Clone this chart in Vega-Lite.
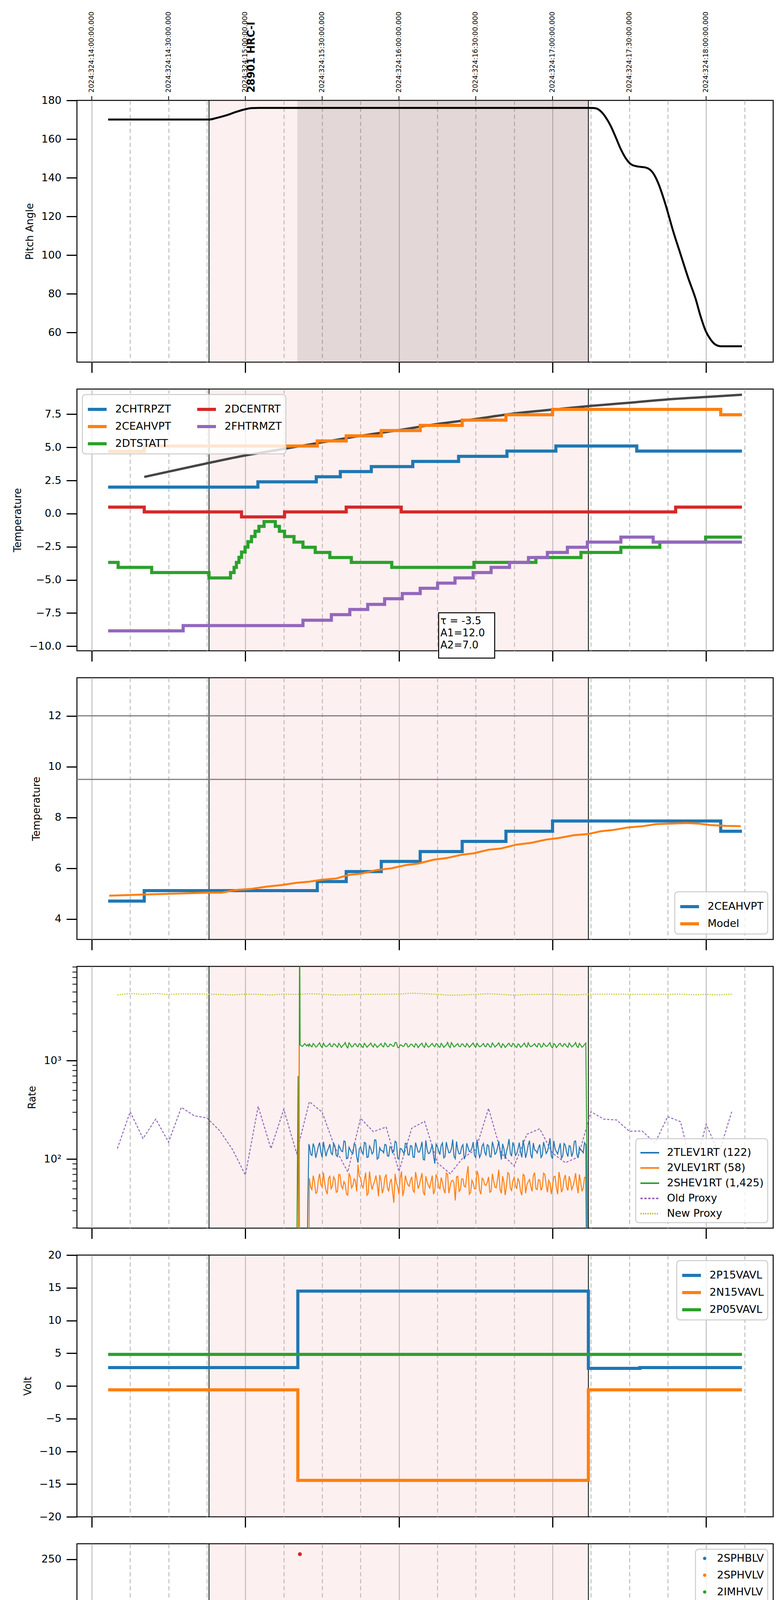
{
"$schema":"https://vega.github.io/schema/vega-lite/v6.json",
"background":"white",
"autosize":{"type":"pad"},
"padding":{"left":31,"top":28,"right":5,"bottom":5},
"spacing":69,
"bounds":"flush",
"resolve":{"scale":{"color":"independent","strokeDash":"independent"}},
"datasets":{
"ev":[{"t":45.8,"t2":194}],
"dk":[{"t":80.3,"t2":194}],
"edges":[{"t":45.8},{"t":194}],
"lims":[{"v":12},{"v":9.5}],
"tops":[{"t":0,"lab":"2024:324:14:00:00.000"},{"t":30,"lab":"2024:324:14:30:00.000"},{"t":60,"lab":"2024:324:15:00:00.000"},{"t":90,"lab":"2024:324:15:30:00.000"},{"t":120,"lab":"2024:324:16:00:00.000"},{"t":150,"lab":"2024:324:16:30:00.000"},{"t":180,"lab":"2024:324:17:00:00.000"},{"t":210,"lab":"2024:324:17:30:00.000"},{"t":240,"lab":"2024:324:18:00:00.000"}],
"obs":[{"t":62.4,"lab":"28901 HRC-I"}],
"pitch":[{"t":6.4,"v":170.1},{"t":45.8,"v":170.1},{"t":48.7,"v":170.9},{"t":52.6,"v":172.3},{"t":56.5,"v":174.1},{"t":59.9,"v":175.4},{"t":62.4,"v":176.0},{"t":65.3,"v":176.1},{"t":195.0,"v":176.1},{"t":196.9,"v":175.9},{"t":198.9,"v":174.3},{"t":200.8,"v":171.2},{"t":202.8,"v":166.6},{"t":204.7,"v":160.9},{"t":206.7,"v":154.7},{"t":208.6,"v":150.1},{"t":211.0,"v":146.7},{"t":213.5,"v":145.8},{"t":216.4,"v":145.3},{"t":219.3,"v":142.4},{"t":221.3,"v":137.2},{"t":224.2,"v":125.9},{"t":227.1,"v":112.5},{"t":230.1,"v":100.1},{"t":233.0,"v":88.2},{"t":235.9,"v":77.4},{"t":237.9,"v":68.1},{"t":239.8,"v":60.9},{"t":241.8,"v":56.3},{"t":243.7,"v":53.7},{"t":245.7,"v":52.9},{"t":254.0,"v":52.9}],
"p2":[
{"s":"2CHTRPZT","t":6.4,"v":2.0},{"s":"2CHTRPZT","t":64.9,"v":2.4},{"s":"2CHTRPZT","t":87.7,"v":2.78},{"s":"2CHTRPZT","t":97.1,"v":3.17},{"s":"2CHTRPZT","t":109.2,"v":3.55},{"s":"2CHTRPZT","t":125.4,"v":3.94},{"s":"2CHTRPZT","t":143.3,"v":4.32},{"s":"2CHTRPZT","t":162.2,"v":4.72},{"s":"2CHTRPZT","t":181.3,"v":5.1},{"s":"2CHTRPZT","t":212.9,"v":4.72},{"s":"2CHTRPZT","t":254.0,"v":4.72},
{"s":"2CEAHVPT","t":6.4,"v":4.7},{"s":"2CEAHVPT","t":20.5,"v":5.1},{"s":"2CEAHVPT","t":88.1,"v":5.49},{"s":"2CEAHVPT","t":99.4,"v":5.87},{"s":"2CEAHVPT","t":113.1,"v":6.27},{"s":"2CEAHVPT","t":128.3,"v":6.66},{"s":"2CEAHVPT","t":144.7,"v":7.06},{"s":"2CEAHVPT","t":161.8,"v":7.46},{"s":"2CEAHVPT","t":180.0,"v":7.87},{"s":"2CEAHVPT","t":245.7,"v":7.46},{"s":"2CEAHVPT","t":254.0,"v":7.46},
{"s":"2DTSTATT","t":6.4,"v":-3.68},{"s":"2DTSTATT","t":10.3,"v":-4.06},{"s":"2DTSTATT","t":23.4,"v":-4.45},{"s":"2DTSTATT","t":45.8,"v":-4.85},{"s":"2DTSTATT","t":54.2,"v":-4.45},{"s":"2DTSTATT","t":55.6,"v":-4.06},{"s":"2DTSTATT","t":56.5,"v":-3.68},{"s":"2DTSTATT","t":57.5,"v":-3.3},{"s":"2DTSTATT","t":58.5,"v":-2.9},{"s":"2DTSTATT","t":59.9,"v":-2.52},{"s":"2DTSTATT","t":61.0,"v":-2.12},{"s":"2DTSTATT","t":62.4,"v":-1.73},{"s":"2DTSTATT","t":63.8,"v":-1.33},{"s":"2DTSTATT","t":65.3,"v":-0.96},{"s":"2DTSTATT","t":67.3,"v":-0.6},{"s":"2DTSTATT","t":71.7,"v":-0.96},{"s":"2DTSTATT","t":73.3,"v":-1.33},{"s":"2DTSTATT","t":75.3,"v":-1.73},{"s":"2DTSTATT","t":79.0,"v":-2.15},{"s":"2DTSTATT","t":82.5,"v":-2.54},{"s":"2DTSTATT","t":87.3,"v":-2.93},{"s":"2DTSTATT","t":93.0,"v":-3.31},{"s":"2DTSTATT","t":101.4,"v":-3.68},{"s":"2DTSTATT","t":117.2,"v":-4.06},{"s":"2DTSTATT","t":149.3,"v":-3.68},{"s":"2DTSTATT","t":173.5,"v":-3.31},{"s":"2DTSTATT","t":191.1,"v":-2.93},{"s":"2DTSTATT","t":206.7,"v":-2.54},{"s":"2DTSTATT","t":221.9,"v":-2.15},{"s":"2DTSTATT","t":239.8,"v":-1.77},{"s":"2DTSTATT","t":254.0,"v":-1.77},
{"s":"2DCENTRT","t":6.4,"v":0.49},{"s":"2DCENTRT","t":20.5,"v":0.13},{"s":"2DCENTRT","t":58.5,"v":-0.25},{"s":"2DCENTRT","t":75.3,"v":0.13},{"s":"2DCENTRT","t":99.4,"v":0.49},{"s":"2DCENTRT","t":120.9,"v":0.13},{"s":"2DCENTRT","t":228.1,"v":0.49},{"s":"2DCENTRT","t":254.0,"v":0.49},
{"s":"2FHTRMZT","t":6.4,"v":-8.85},{"s":"2FHTRMZT","t":35.7,"v":-8.45},{"s":"2FHTRMZT","t":82.5,"v":-8.04},{"s":"2FHTRMZT","t":93.6,"v":-7.62},{"s":"2FHTRMZT","t":100.8,"v":-7.23},{"s":"2FHTRMZT","t":107.8,"v":-6.85},{"s":"2FHTRMZT","t":114.4,"v":-6.42},{"s":"2FHTRMZT","t":121.3,"v":-6.03},{"s":"2FHTRMZT","t":128.3,"v":-5.63},{"s":"2FHTRMZT","t":135.1,"v":-5.24},{"s":"2FHTRMZT","t":141.9,"v":-4.85},{"s":"2FHTRMZT","t":149.0,"v":-4.45},{"s":"2FHTRMZT","t":156.0,"v":-4.06},{"s":"2FHTRMZT","t":163.2,"v":-3.68},{"s":"2FHTRMZT","t":170.6,"v":-3.31},{"s":"2FHTRMZT","t":178.0,"v":-2.93},{"s":"2FHTRMZT","t":185.8,"v":-2.54},{"s":"2FHTRMZT","t":193.6,"v":-2.15},{"s":"2FHTRMZT","t":206.7,"v":-1.77},{"s":"2FHTRMZT","t":219.3,"v":-2.15},{"s":"2FHTRMZT","t":254.0,"v":-2.15}],
"p2m":[{"t":20.5,"v":2.77},{"t":45.8,"v":3.83},{"t":59.9,"v":4.39},{"t":75.1,"v":4.89},{"t":89.9,"v":5.38},{"t":104.9,"v":5.87},{"t":119.9,"v":6.30},{"t":134.9,"v":6.76},{"t":149.9,"v":7.14},{"t":165.0,"v":7.56},{"t":180.0,"v":7.85},{"t":195.0,"v":8.13},{"t":210.0,"v":8.37},{"t":225.0,"v":8.62},{"t":240.0,"v":8.80},{"t":254.0,"v":8.97}],
"p3":[
{"s":"2CEAHVPT","t":6.4,"v":4.71},{"s":"2CEAHVPT","t":20.5,"v":5.12},{"s":"2CEAHVPT","t":88.1,"v":5.48},{"s":"2CEAHVPT","t":99.4,"v":5.87},{"s":"2CEAHVPT","t":113.1,"v":6.27},{"s":"2CEAHVPT","t":128.3,"v":6.66},{"s":"2CEAHVPT","t":144.7,"v":7.06},{"s":"2CEAHVPT","t":161.8,"v":7.46},{"s":"2CEAHVPT","t":180.0,"v":7.86},{"s":"2CEAHVPT","t":245.7,"v":7.46},{"s":"2CEAHVPT","t":254.0,"v":7.46},
{"s":"Model","t":6.8,"v":4.92},{"s":"Model","t":21.4,"v":4.97},{"s":"Model","t":35.1,"v":5.01},{"s":"Model","t":44.8,"v":5.04},{"s":"Model","t":50.7,"v":5.04},{"s":"Model","t":56.6,"v":5.15},{"s":"Model","t":62.4,"v":5.19},{"s":"Model","t":68.3,"v":5.28},{"s":"Model","t":74.1,"v":5.34},{"s":"Model","t":80.0,"v":5.43},{"s":"Model","t":84.8,"v":5.47},{"s":"Model","t":89.7,"v":5.55},{"s":"Model","t":95.5,"v":5.60},{"s":"Model","t":100.4,"v":5.74},{"s":"Model","t":105.3,"v":5.79},{"s":"Model","t":111.2,"v":5.93},{"s":"Model","t":117.0,"v":6.0},{"s":"Model","t":122.9,"v":6.13},{"s":"Model","t":127.7,"v":6.19},{"s":"Model","t":133.6,"v":6.34},{"s":"Model","t":138.5,"v":6.40},{"s":"Model","t":144.3,"v":6.53},{"s":"Model","t":149.2,"v":6.59},{"s":"Model","t":155.0,"v":6.73},{"s":"Model","t":159.9,"v":6.78},{"s":"Model","t":165.8,"v":6.93},{"s":"Model","t":171.6,"v":7.0},{"s":"Model","t":177.5,"v":7.13},{"s":"Model","t":182.3,"v":7.19},{"s":"Model","t":188.2,"v":7.30},{"s":"Model","t":194.0,"v":7.35},{"s":"Model","t":198.9,"v":7.46},{"s":"Model","t":203.8,"v":7.51},{"s":"Model","t":209.6,"v":7.61},{"s":"Model","t":215.5,"v":7.66},{"s":"Model","t":220.4,"v":7.74},{"s":"Model","t":226.2,"v":7.76},{"s":"Model","t":232.1,"v":7.78},{"s":"Model","t":236.9,"v":7.76},{"s":"Model","t":241.8,"v":7.70},{"s":"Model","t":247.7,"v":7.67},{"s":"Model","t":253.5,"v":7.66}],
"p4":[
{"t":10,"old":128,"new":4655},{"t":15,"old":303,"new":4815},{"t":20,"old":162,"new":4720},{"t":25,"old":255,"new":4815},{"t":30,"old":149,"new":4720},{"t":35,"old":336,"new":4770},{"t":40,"old":276,"new":4770},{"t":45,"old":262,"new":4750},{"t":50,"old":194,"new":4720},{"t":55,"old":125,"new":4655},{"t":60,"old":69,"new":4750},{"t":65,"old":343,"new":4720},{"t":70,"old":128,"new":4655},{"t":75,"old":321,"new":4750},{"t":80,"old":115,"new":4720,"g":5},
{"t":80.6,"g":700},{"t":80.8,"g":5,"o":3},{"t":81.0,"o":1400},{"t":81.2,"g":30000,"o":3},{"t":81.4,"g":1450},{"t":82.3,"g":1395},{"t":83.2,"g":1490},{"t":84.0,"g":1410,"b":3},{"t":84.4,"b":35,"g":1460},{"t":84.8,"b":140,"o":3,"g":1400},
{"t":85,"b":138,"o":64,"g":1480,"old":383,"new":4790},{"t":86,"b":109,"o":49,"g":1380},{"t":87,"b":131,"o":59,"g":1450},{"t":88,"b":117,"o":46,"g":1400},{"t":89,"b":147,"o":71,"g":1520},
{"t":90,"b":104,"o":52,"g":1360,"old":300,"new":4735},{"t":91,"b":126,"o":57,"g":1430},{"t":92,"b":121,"o":44,"g":1410},{"t":93,"b":142,"o":67,"g":1500},{"t":94,"b":111,"o":53,"g":1390},
{"t":95,"b":135,"o":62,"g":1470,"old":131,"new":4655},{"t":96,"b":106,"o":47,"g":1370},{"t":97,"b":129,"o":69,"g":1440},{"t":98,"b":119,"o":50,"g":1420},{"t":99,"b":151,"o":56,"g":1530},
{"t":100,"b":102,"o":43,"g":1350,"old":74,"new":4675},{"t":101,"b":124,"o":66,"g":1460},{"t":102,"b":114,"o":54,"g":1395},{"t":103,"b":140,"o":60,"g":1490},{"t":104,"b":92,"o":88,"g":1385},
{"t":105,"b":133,"o":65,"g":1475,"old":260,"new":4720},{"t":106,"b":112,"o":51,"g":1365},{"t":107,"b":145,"o":73,"g":1445},{"t":108,"b":105,"o":45,"g":1415},{"t":109,"b":128,"o":58,"g":1510},
{"t":110,"b":118,"o":55,"g":1375,"old":190,"new":4720},{"t":111,"b":156,"o":68,"g":1435},{"t":112,"b":103,"o":42,"g":1405},{"t":113,"b":122,"o":61,"g":1495},{"t":114,"b":116,"o":50,"g":1380},
{"t":115,"b":139,"o":70,"g":1465,"old":212,"new":4735},{"t":116,"b":107,"o":47,"g":1390},{"t":117,"b":130,"o":63,"g":1455},{"t":118,"b":120,"o":36,"g":1400},{"t":119,"b":148,"o":57,"g":1525},
{"t":120,"b":100,"o":44,"g":1355,"old":75,"new":4750},{"t":121,"b":127,"o":75,"g":1440},{"t":122,"b":113,"o":49,"g":1410},{"t":123,"b":143,"o":60,"g":1485},{"t":124,"b":110,"o":53,"g":1395},
{"t":125,"b":136,"o":66,"g":1470,"old":206,"new":4855},{"t":126,"b":104,"o":46,"g":1375},{"t":127,"b":132,"o":62,"g":1450},{"t":128,"b":118,"o":55,"g":1420},{"t":129,"b":150,"o":72,"g":1505},
{"t":130,"b":98,"o":43,"g":1365,"old":242,"new":4790},{"t":131,"b":125,"o":59,"g":1430},{"t":132,"b":115,"o":51,"g":1400},{"t":133,"b":141,"o":68,"g":1500},{"t":134,"b":90,"o":48,"g":1385},
{"t":135,"b":134,"o":64,"g":1480,"old":92,"new":4720},{"t":136,"b":111,"o":50,"g":1370},{"t":137,"b":146,"o":58,"g":1445},{"t":138,"b":106,"o":45,"g":1410},{"t":139,"b":129,"o":70,"g":1535},
{"t":140,"b":117,"o":53,"g":1360,"old":71,"new":4635},{"t":141,"b":158,"o":61,"g":1455},{"t":142,"b":101,"o":38,"g":1405},{"t":143,"b":123,"o":67,"g":1490},{"t":144,"b":114,"o":49,"g":1390},
{"t":145,"b":140,"o":63,"g":1475,"old":103,"new":4655},{"t":146,"b":108,"o":52,"g":1380},{"t":147,"b":131,"o":85,"g":1440},{"t":148,"b":121,"o":46,"g":1415},{"t":149,"b":149,"o":57,"g":1515},
{"t":150,"b":103,"o":50,"g":1370,"old":125,"new":4720},{"t":151,"b":126,"o":69,"g":1435},{"t":152,"b":112,"o":44,"g":1400},{"t":153,"b":144,"o":62,"g":1495},{"t":154,"b":110,"o":54,"g":1385},
{"t":155,"b":137,"o":66,"g":1465,"old":328,"new":4790},{"t":156,"b":105,"o":47,"g":1375},{"t":157,"b":133,"o":60,"g":1450},{"t":158,"b":116,"o":51,"g":1420},{"t":159,"b":152,"o":78,"g":1520},
{"t":160,"b":99,"o":45,"g":1360,"old":115,"new":4720},{"t":161,"b":128,"o":58,"g":1445},{"t":162,"b":119,"o":53,"g":1410},{"t":163,"b":160,"o":71,"g":1505},{"t":164,"b":107,"o":48,"g":1390},
{"t":165,"b":135,"o":65,"g":1470,"old":85,"new":4635},{"t":166,"b":113,"o":50,"g":1365},{"t":167,"b":147,"o":59,"g":1455},{"t":168,"b":104,"o":43,"g":1400},{"t":169,"b":130,"o":68,"g":1510},
{"t":170,"b":118,"o":55,"g":1375,"old":179,"new":4700},{"t":171,"b":154,"o":62,"g":1430},{"t":172,"b":102,"o":47,"g":1415},{"t":173,"b":124,"o":73,"g":1490},{"t":174,"b":115,"o":49,"g":1380},
{"t":175,"b":141,"o":61,"g":1480,"old":203,"new":4720},{"t":176,"b":109,"o":52,"g":1385},{"t":177,"b":132,"o":70,"g":1445},{"t":178,"b":120,"o":46,"g":1405},{"t":179,"b":163,"o":57,"g":1525},
{"t":180,"b":101,"o":54,"g":1355,"old":115,"new":4735},{"t":181,"b":127,"o":67,"g":1460},{"t":182,"b":113,"o":44,"g":1410},{"t":183,"b":145,"o":63,"g":1500},{"t":184,"b":108,"o":50,"g":1395},
{"t":185,"b":138,"o":69,"g":1475,"old":92,"new":4675},{"t":186,"b":106,"o":48,"g":1370},{"t":187,"b":134,"o":60,"g":1450},{"t":188,"b":117,"o":53,"g":1415},{"t":189,"b":153,"o":72,"g":1530},
{"t":190,"b":103,"o":45,"g":1365,"old":105,"new":4675},{"t":191,"b":125,"o":58,"g":1440},{"t":192,"b":116,"o":51,"g":1405},{"t":193,"b":140,"o":66,"g":1510},
{"t":85.5,"b":112,"o":52,"g":1420},{"t":86.5,"b":144,"o":68,"g":1495},{"t":87.5,"b":103,"o":45,"g":1375},{"t":88.5,"b":135,"o":61,"g":1465},{"t":89.5,"b":118,"o":55,"g":1405},{"t":90.5,"b":150,"o":73,"g":1510},{"t":91.5,"b":107,"o":48,"g":1385},{"t":92.5,"b":129,"o":64,"g":1450},{"t":93.5,"b":115,"o":50,"g":1395},{"t":94.5,"b":146,"o":66,"g":1485},
{"t":95.5,"b":109,"o":46,"g":1410},{"t":96.5,"b":138,"o":70,"g":1500},{"t":97.5,"b":121,"o":53,"g":1360},{"t":98.5,"b":153,"o":59,"g":1455},{"t":99.5,"b":101,"o":44,"g":1400},{"t":100.5,"b":132,"o":72,"g":1520},{"t":101.5,"b":117,"o":51,"g":1380},{"t":102.5,"b":143,"o":63,"g":1470},{"t":103.5,"b":106,"o":47,"g":1415},{"t":104.5,"b":127,"o":67,"g":1490},
{"t":105.5,"b":119,"o":54,"g":1390},{"t":106.5,"b":148,"o":62,"g":1505},{"t":107.5,"b":104,"o":43,"g":1370},{"t":108.5,"b":136,"o":75,"g":1460},{"t":109.5,"b":113,"o":49,"g":1420},{"t":110.5,"b":157,"o":60,"g":1480},{"t":111.5,"b":100,"o":56,"g":1365},{"t":112.5,"b":131,"o":69,"g":1445},{"t":113.5,"b":122,"o":45,"g":1405},{"t":114.5,"b":141,"o":65,"g":1515},
{"t":115.5,"b":108,"o":51,"g":1385},{"t":116.5,"b":134,"o":58,"g":1475},{"t":117.5,"b":116,"o":47,"g":1410},{"t":118.5,"b":152,"o":71,"g":1530},{"t":119.5,"b":102,"o":53,"g":1370},{"t":120.5,"b":128,"o":64,"g":1450},{"t":121.5,"b":120,"o":42,"g":1395},{"t":122.5,"b":145,"o":68,"g":1495},{"t":123.5,"b":111,"o":55,"g":1380},{"t":124.5,"b":137,"o":61,"g":1465},
{"t":125.5,"b":105,"o":48,"g":1415},{"t":126.5,"b":147,"o":74,"g":1490},{"t":127.5,"b":118,"o":50,"g":1360},{"t":128.5,"b":130,"o":63,"g":1470},{"t":129.5,"b":99,"o":46,"g":1400},{"t":130.5,"b":155,"o":67,"g":1510},{"t":131.5,"b":114,"o":54,"g":1375},{"t":132.5,"b":126,"o":59,"g":1455},{"t":133.5,"b":109,"o":44,"g":1420},{"t":134.5,"b":142,"o":70,"g":1485},
{"t":135.5,"b":121,"o":52,"g":1390},{"t":136.5,"b":138,"o":65,"g":1500},{"t":137.5,"b":103,"o":49,"g":1365},{"t":138.5,"b":149,"o":72,"g":1445},{"t":139.5,"b":116,"o":45,"g":1410},{"t":140.5,"b":127,"o":60,"g":1525},{"t":141.5,"b":107,"o":57,"g":1380},{"t":142.5,"b":151,"o":66,"g":1460},{"t":143.5,"b":113,"o":47,"g":1395},{"t":144.5,"b":133,"o":63,"g":1480},
{"t":145.5,"b":100,"o":53,"g":1405},{"t":146.5,"b":145,"o":69,"g":1495},{"t":147.5,"b":119,"o":44,"g":1370},{"t":148.5,"b":129,"o":61,"g":1465},{"t":149.5,"b":110,"o":50,"g":1415},{"t":150.5,"b":158,"o":76,"g":1505},{"t":151.5,"b":104,"o":48,"g":1385},{"t":152.5,"b":136,"o":64,"g":1450},{"t":153.5,"b":117,"o":55,"g":1400},{"t":154.5,"b":140,"o":58,"g":1490},
{"t":155.5,"b":106,"o":46,"g":1380},{"t":156.5,"b":150,"o":71,"g":1515},{"t":157.5,"b":112,"o":52,"g":1375},{"t":158.5,"b":131,"o":62,"g":1460},{"t":159.5,"b":120,"o":49,"g":1410},{"t":160.5,"b":143,"o":67,"g":1485},{"t":161.5,"b":101,"o":43,"g":1365},{"t":162.5,"b":134,"o":73,"g":1470},{"t":163.5,"b":115,"o":51,"g":1420},{"t":164.5,"b":148,"o":60,"g":1500},
{"t":165.5,"b":109,"o":54,"g":1395},{"t":166.5,"b":127,"o":64,"g":1480},{"t":167.5,"b":118,"o":47,"g":1370},{"t":168.5,"b":156,"o":70,"g":1455},{"t":169.5,"b":103,"o":45,"g":1405},{"t":170.5,"b":139,"o":59,"g":1520},{"t":171.5,"b":111,"o":53,"g":1385},{"t":172.5,"b":146,"o":68,"g":1445},{"t":173.5,"b":122,"o":50,"g":1410},{"t":174.5,"b":130,"o":62,"g":1495},
{"t":175.5,"b":104,"o":48,"g":1375},{"t":176.5,"b":149,"o":72,"g":1505},{"t":177.5,"b":114,"o":55,"g":1400},{"t":178.5,"b":135,"o":61,"g":1465},{"t":179.5,"b":108,"o":44,"g":1390},{"t":180.5,"b":153,"o":66,"g":1490},{"t":181.5,"b":119,"o":51,"g":1360},{"t":182.5,"b":128,"o":74,"g":1475},{"t":183.5,"b":102,"o":46,"g":1415},{"t":184.5,"b":144,"o":63,"g":1485},
{"t":185.5,"b":117,"o":52,"g":1400},{"t":186.5,"b":137,"o":67,"g":1510},{"t":187.5,"b":106,"o":49,"g":1380},{"t":188.5,"b":151,"o":60,"g":1455},{"t":189.5,"b":112,"o":54,"g":1395},{"t":190.5,"b":132,"o":70,"g":1500},{"t":191.5,"b":121,"o":47,"g":1370},{"t":192.5,"b":147,"o":65,"g":1460},
{"t":193.4,"b":3,"o":3},{"t":194,"g":3},
{"t":195,"old":303,"new":4750},{"t":200,"old":255,"new":4750},{"t":205,"old":250,"new":4750},{"t":210,"old":192,"new":4720},{"t":215,"old":193,"new":4720},{"t":220,"old":146,"new":4735},{"t":225,"old":270,"new":4720},{"t":230,"old":240,"new":4750},{"t":235,"old":71,"new":4675},{"t":240,"old":226,"new":4720},{"t":245,"old":115,"new":4655},{"t":250,"old":303,"new":4750}],
"p5":[
{"s":"2P15VAVL","t":6.4,"v":2.8},{"s":"2P15VAVL","t":80.5,"v":14.49},{"s":"2P15VAVL","t":194.0,"v":2.68},{"s":"2P15VAVL","t":214.1,"v":2.8},{"s":"2P15VAVL","t":254.0,"v":2.8},
{"s":"2N15VAVL","t":6.4,"v":-0.6},{"s":"2N15VAVL","t":80.5,"v":-14.44},{"s":"2N15VAVL","t":194.0,"v":-0.6},{"s":"2N15VAVL","t":254.0,"v":-0.6},
{"s":"2P05VAVL","t":6.4,"v":4.82},{"s":"2P05VAVL","t":254.0,"v":4.82}],
"p6":[
{"t":81.3,"r":255.2},{"t":81.9,"r":126.6,"g":99.1},{"t":82.0,"r":119},{"t":82.3,"r":105.8},{"t":82.5,"g":95},{"t":82.7,"r":101},{"t":83.0,"g":89.7},{"t":83.3,"r":97.8},{"t":83.7,"r":95,"g":85.5},{"t":84.1,"r":93},{"t":84.5,"r":90.3,"g":82},{"t":84.8,"r":87.4},{"t":85.0,"g":78.8},
{"t":85.5,"g":78.8,"r":85},{"t":87,"g":78.8,"r":85},{"t":88.5,"g":78.8,"r":85},{"t":90,"g":78.8,"r":85},{"t":91.5,"g":78.8,"r":85},{"t":93,"g":78.8,"r":85},{"t":94.5,"g":78.8,"r":85},{"t":96,"g":78.8,"r":85},{"t":97.5,"g":78.8,"r":85},{"t":99,"g":78.8,"r":85},
{"t":100.5,"g":78.8,"r":85},{"t":102,"g":78.8,"r":85},{"t":103.5,"g":78.8,"r":85},{"t":105,"g":78.8,"r":85},{"t":106.5,"g":78.8,"r":85},{"t":108,"g":78.8,"r":85},{"t":109.5,"g":78.8,"r":85},{"t":111,"g":78.8,"r":85},{"t":112.5,"g":78.8,"r":85},{"t":114,"g":78.8,"r":85},
{"t":115.5,"g":78.8,"r":85},{"t":117,"g":78.8,"r":85},{"t":118.5,"g":78.8,"r":85},{"t":120,"g":78.8,"r":85},{"t":121.5,"g":78.8,"r":85},{"t":123,"g":78.8,"r":85},{"t":124.5,"g":78.8,"r":85},{"t":126,"g":78.8,"r":85},{"t":127.5,"g":78.8,"r":85},{"t":129,"g":78.8,"r":85},
{"t":130.5,"g":78.8,"r":85},{"t":132,"g":78.8,"r":85},{"t":133.5,"g":78.8,"r":85},{"t":135,"g":78.8,"r":85},{"t":136.5,"g":78.8,"r":85},{"t":138,"g":78.8,"r":85},{"t":139.5,"g":78.8,"r":85},{"t":141,"g":78.8,"r":85},{"t":142.5,"g":78.8,"r":85},{"t":144,"g":78.8,"r":85},
{"t":145.5,"g":78.8,"r":85},{"t":147,"g":78.8,"r":85},{"t":148.5,"g":78.8,"r":85},{"t":150,"g":78.8,"r":85},{"t":151.5,"g":78.8,"r":85},{"t":153,"g":78.8,"r":85},{"t":154.5,"g":78.8,"r":85},{"t":156,"g":78.8,"r":85},{"t":157.5,"g":78.8,"r":85},{"t":159,"g":78.8,"r":85},
{"t":160.5,"g":78.8,"r":85},{"t":162,"g":78.8,"r":85},{"t":163.5,"g":78.8,"r":85},{"t":165,"g":78.8,"r":85},{"t":166.5,"g":78.8,"r":85},{"t":168,"g":78.8,"r":85},{"t":169.5,"g":78.8,"r":85},{"t":171,"g":78.8,"r":85},{"t":172.5,"g":78.8,"r":85},{"t":174,"g":78.8,"r":85},
{"t":175.5,"g":78.8,"r":85},{"t":177,"g":78.8,"r":85},{"t":178.5,"g":78.8,"r":85},{"t":180,"g":78.8,"r":85},{"t":181.5,"g":78.8,"r":85},{"t":183,"g":78.8,"r":85},{"t":184.5,"g":78.8,"r":85},{"t":186,"g":78.8,"r":85},{"t":187.5,"g":78.8,"r":85},{"t":189,"g":78.8,"r":85},
{"t":190.5,"g":78.8,"r":85},{"t":192,"g":78.8,"r":85},{"t":193.5,"g":78.8,"r":85},
{"t":86.25,"g":78.8,"r":85},{"t":87.75,"g":78.8,"r":85},{"t":89.25,"g":78.8,"r":85},{"t":90.75,"g":78.8,"r":85},{"t":92.25,"g":78.8,"r":85},{"t":93.75,"g":78.8,"r":85},{"t":95.25,"g":78.8,"r":85},{"t":96.75,"g":78.8,"r":85},{"t":98.25,"g":78.8,"r":85},{"t":99.75,"g":78.8,"r":85},
{"t":101.25,"g":78.8,"r":85},{"t":102.75,"g":78.8,"r":85},{"t":104.25,"g":78.8,"r":85},{"t":105.75,"g":78.8,"r":85},{"t":107.25,"g":78.8,"r":85},{"t":108.75,"g":78.8,"r":85},{"t":110.25,"g":78.8,"r":85},{"t":111.75,"g":78.8,"r":85},{"t":113.25,"g":78.8,"r":85},{"t":114.75,"g":78.8,"r":85},
{"t":116.25,"g":78.8,"r":85},{"t":117.75,"g":78.8,"r":85},{"t":119.25,"g":78.8,"r":85},{"t":120.75,"g":78.8,"r":85},{"t":122.25,"g":78.8,"r":85},{"t":123.75,"g":78.8,"r":85},{"t":125.25,"g":78.8,"r":85},{"t":126.75,"g":78.8,"r":85},{"t":128.25,"g":78.8,"r":85},{"t":129.75,"g":78.8,"r":85},
{"t":131.25,"g":78.8,"r":85},{"t":132.75,"g":78.8,"r":85},{"t":134.25,"g":78.8,"r":85},{"t":135.75,"g":78.8,"r":85},{"t":137.25,"g":78.8,"r":85},{"t":138.75,"g":78.8,"r":85},{"t":140.25,"g":78.8,"r":85},{"t":141.75,"g":78.8,"r":85},{"t":143.25,"g":78.8,"r":85},{"t":144.75,"g":78.8,"r":85},
{"t":146.25,"g":78.8,"r":85},{"t":147.75,"g":78.8,"r":85},{"t":149.25,"g":78.8,"r":85},{"t":150.75,"g":78.8,"r":85},{"t":152.25,"g":78.8,"r":85},{"t":153.75,"g":78.8,"r":85},{"t":155.25,"g":78.8,"r":85},{"t":156.75,"g":78.8,"r":85},{"t":158.25,"g":78.8,"r":85},{"t":159.75,"g":78.8,"r":85},
{"t":161.25,"g":78.8,"r":85},{"t":162.75,"g":78.8,"r":85},{"t":164.25,"g":78.8,"r":85},{"t":165.75,"g":78.8,"r":85},{"t":167.25,"g":78.8,"r":85},{"t":168.75,"g":78.8,"r":85},{"t":170.25,"g":78.8,"r":85},{"t":171.75,"g":78.8,"r":85},{"t":173.25,"g":78.8,"r":85},{"t":174.75,"g":78.8,"r":85},
{"t":176.25,"g":78.8,"r":85},{"t":177.75,"g":78.8,"r":85},{"t":179.25,"g":78.8,"r":85},{"t":180.75,"g":78.8,"r":85},{"t":182.25,"g":78.8,"r":85},{"t":183.75,"g":78.8,"r":85},{"t":185.25,"g":78.8,"r":85},{"t":186.75,"g":78.8,"r":85},{"t":188.25,"g":78.8,"r":85},{"t":189.75,"g":78.8,"r":85},
{"t":191.25,"g":78.8,"r":85},{"t":192.75,"g":78.8,"r":85},
{"t":164.8,"g":126.6,"r":79},{"t":165.4,"g":126.6,"r":79},{"t":168.8,"g":126.6,"r":79},{"t":170.0,"g":126.6},{"t":171.6,"g":126.6,"r":79},{"t":178.8,"g":126.6,"r":79}],
"p7":[
{"s":"2SPINATM","t":81.3,"v":4.16},{"s":"2SPINATM","t":85.2,"v":3.68},{"s":"2SPINATM","t":90.9,"v":3.18},{"s":"2SPINATM","t":98.5,"v":2.70},{"s":"2SPINATM","t":110.8,"v":2.22},
{"s":"2SPINATM","t":164.2,"v":-5},{"s":"2SPINATM","t":164.6,"v":2.22},{"s":"2SPINATM","t":164.9,"v":-5},{"s":"2SPINATM","t":165.3,"v":2.22},{"s":"2SPINATM","t":165.6,"v":-5},{"s":"2SPINATM","t":166.1,"v":2.22},
{"s":"2SPINATM","t":168.1,"v":-5},{"s":"2SPINATM","t":168.5,"v":2.22},{"s":"2SPINATM","t":168.8,"v":-5},{"s":"2SPINATM","t":169.2,"v":2.22},{"s":"2SPINATM","t":169.5,"v":-5},{"s":"2SPINATM","t":169.9,"v":2.22},{"s":"2SPINATM","t":170.2,"v":-5},{"s":"2SPINATM","t":170.6,"v":2.22},
{"s":"2SPINATM","t":171.0,"v":-5},{"s":"2SPINATM","t":171.4,"v":2.22},{"s":"2SPINATM","t":171.7,"v":-5},{"s":"2SPINATM","t":172.1,"v":2.22},{"s":"2SPINATM","t":172.4,"v":-5},{"s":"2SPINATM","t":172.8,"v":2.22},{"s":"2SPINATM","t":173.1,"v":-5},{"s":"2SPINATM","t":173.5,"v":2.22},{"s":"2SPINATM","t":173.7,"v":-5},{"s":"2SPINATM","t":173.9,"v":2.22},
{"s":"2SPINATM","t":175.5,"v":-5},{"s":"2SPINATM","t":175.9,"v":2.22},{"s":"2SPINATM","t":176.2,"v":-5},{"s":"2SPINATM","t":176.6,"v":2.22},{"s":"2SPINATM","t":176.9,"v":-5},{"s":"2SPINATM","t":177.3,"v":2.22},{"s":"2SPINATM","t":177.6,"v":-5},{"s":"2SPINATM","t":178.0,"v":2.22},{"s":"2SPINATM","t":178.3,"v":-5},{"s":"2SPINATM","t":178.7,"v":2.22},{"s":"2SPINATM","t":179.0,"v":-5},{"s":"2SPINATM","t":179.4,"v":2.22},{"s":"2SPINATM","t":193.4,"v":2.22},
{"s":"2SPHVATM","t":80.4,"v":-10},{"s":"2SPHVATM","t":80.5,"v":12.75},{"s":"2SPHVATM","t":81.3,"v":13.33},{"s":"2SPHVATM","t":89.1,"v":13.0},{"s":"2SPHVATM","t":89.7,"v":13.33},{"s":"2SPHVATM","t":116.0,"v":13.6},{"s":"2SPHVATM","t":134.2,"v":13.97},{"s":"2SPHVATM","t":150.7,"v":14.3},
{"s":"2SPHVATM","t":164.2,"v":8.9},{"s":"2SPHVATM","t":164.6,"v":14.67},{"s":"2SPHVATM","t":164.9,"v":8.9},{"s":"2SPHVATM","t":165.3,"v":14.67},{"s":"2SPHVATM","t":165.5,"v":8.9},{"s":"2SPHVATM","t":165.8,"v":14.67},{"s":"2SPHVATM","t":166.7,"v":-10},{"s":"2SPHVATM","t":166.8,"v":14.67},
{"s":"2SPHVATM","t":167.3,"v":8.9},{"s":"2SPHVATM","t":167.7,"v":14.67},{"s":"2SPHVATM","t":168.0,"v":8.9},{"s":"2SPHVATM","t":168.4,"v":14.67},{"s":"2SPHVATM","t":168.7,"v":8.9},{"s":"2SPHVATM","t":169.1,"v":14.67},{"s":"2SPHVATM","t":169.4,"v":8.9},{"s":"2SPHVATM","t":169.7,"v":14.67},
{"s":"2SPHVATM","t":171.0,"v":8.9},{"s":"2SPHVATM","t":171.4,"v":14.67},{"s":"2SPHVATM","t":171.7,"v":8.9},{"s":"2SPHVATM","t":172.1,"v":14.67},{"s":"2SPHVATM","t":172.4,"v":8.9},{"s":"2SPHVATM","t":172.8,"v":14.67},{"s":"2SPHVATM","t":173.1,"v":8.9},{"s":"2SPHVATM","t":173.5,"v":14.67},{"s":"2SPHVATM","t":173.7,"v":8.9},{"s":"2SPHVATM","t":173.9,"v":14.67},
{"s":"2SPHVATM","t":175.5,"v":8.9},{"s":"2SPHVATM","t":175.9,"v":14.67},{"s":"2SPHVATM","t":176.2,"v":8.9},{"s":"2SPHVATM","t":176.6,"v":14.67},{"s":"2SPHVATM","t":176.9,"v":8.9},{"s":"2SPHVATM","t":177.3,"v":14.67},{"s":"2SPHVATM","t":177.6,"v":8.9},{"s":"2SPHVATM","t":178.0,"v":14.67},{"s":"2SPHVATM","t":178.3,"v":8.9},{"s":"2SPHVATM","t":178.7,"v":14.67},{"s":"2SPHVATM","t":179.0,"v":8.9},{"s":"2SPHVATM","t":179.3,"v":14.67},
{"s":"2SPHVATM","t":182.3,"v":15.0},{"s":"2SPHVATM","t":193.4,"v":15.0},
{"s":"2IMINATM","t":81.3,"v":-0.52},{"s":"2IMINATM","t":160.9,"v":-0.07},
{"s":"2IMINATM","t":164.2,"v":2.26},{"s":"2IMINATM","t":164.6,"v":-0.07},{"s":"2IMINATM","t":164.9,"v":2.26},{"s":"2IMINATM","t":165.3,"v":-0.07},{"s":"2IMINATM","t":165.6,"v":2.26},{"s":"2IMINATM","t":166.0,"v":-0.07},{"s":"2IMINATM","t":166.3,"v":2.26},{"s":"2IMINATM","t":166.7,"v":-0.07},{"s":"2IMINATM","t":167.0,"v":2.26},{"s":"2IMINATM","t":167.4,"v":-0.07},{"s":"2IMINATM","t":167.7,"v":2.26},{"s":"2IMINATM","t":168.1,"v":-0.07},{"s":"2IMINATM","t":168.4,"v":2.26},{"s":"2IMINATM","t":168.8,"v":-0.07},{"s":"2IMINATM","t":169.1,"v":2.26},{"s":"2IMINATM","t":169.5,"v":-0.07},{"s":"2IMINATM","t":169.8,"v":2.26},{"s":"2IMINATM","t":170.2,"v":-0.07},{"s":"2IMINATM","t":170.4,"v":2.26},{"s":"2IMINATM","t":170.6,"v":-0.07},
{"s":"2IMINATM","t":171.0,"v":2.26},{"s":"2IMINATM","t":171.4,"v":-0.07},{"s":"2IMINATM","t":171.7,"v":2.26},{"s":"2IMINATM","t":172.1,"v":-0.07},{"s":"2IMINATM","t":172.4,"v":2.26},{"s":"2IMINATM","t":172.8,"v":-0.07},{"s":"2IMINATM","t":173.1,"v":2.26},{"s":"2IMINATM","t":173.5,"v":-0.07},{"s":"2IMINATM","t":173.7,"v":2.26},{"s":"2IMINATM","t":173.9,"v":-0.07},
{"s":"2IMINATM","t":175.5,"v":2.26},{"s":"2IMINATM","t":175.9,"v":-0.07},{"s":"2IMINATM","t":176.2,"v":2.26},{"s":"2IMINATM","t":176.6,"v":-0.07},{"s":"2IMINATM","t":176.9,"v":2.26},{"s":"2IMINATM","t":177.3,"v":-0.07},{"s":"2IMINATM","t":177.6,"v":2.26},{"s":"2IMINATM","t":178.0,"v":-0.07},{"s":"2IMINATM","t":178.3,"v":2.26},{"s":"2IMINATM","t":178.7,"v":-0.07},{"s":"2IMINATM","t":179.0,"v":2.26},{"s":"2IMINATM","t":179.4,"v":-0.07},{"s":"2IMINATM","t":193.4,"v":-0.07},
{"s":"2IMHVATM","t":80.8,"v":-10},{"s":"2IMHVATM","t":80.9,"v":12.61},{"s":"2IMHVATM","t":92.6,"v":12.98},{"s":"2IMHVATM","t":98.5,"v":13.33},{"s":"2IMHVATM","t":104.3,"v":13.65},{"s":"2IMHVATM","t":110.2,"v":13.97},{"s":"2IMHVATM","t":117.0,"v":14.32},{"s":"2IMHVATM","t":124.4,"v":14.67},{"s":"2IMHVATM","t":133.6,"v":15.02},{"s":"2IMHVATM","t":142.9,"v":15.36},{"s":"2IMHVATM","t":153.3,"v":15.7},
{"s":"2IMHVATM","t":164.2,"v":16.05},{"s":"2IMHVATM","t":164.5,"v":14.6},{"s":"2IMHVATM","t":164.9,"v":16.05},{"s":"2IMHVATM","t":165.2,"v":14.6},{"s":"2IMHVATM","t":165.6,"v":16.05},{"s":"2IMHVATM","t":165.9,"v":14.6},{"s":"2IMHVATM","t":166.3,"v":16.05},{"s":"2IMHVATM","t":166.6,"v":14.6},{"s":"2IMHVATM","t":167.0,"v":16.05},{"s":"2IMHVATM","t":167.3,"v":14.6},{"s":"2IMHVATM","t":167.7,"v":16.05},
{"s":"2IMHVATM","t":170.6,"v":14.6},{"s":"2IMHVATM","t":171.0,"v":16.05},{"s":"2IMHVATM","t":171.3,"v":14.6},{"s":"2IMHVATM","t":171.7,"v":16.05},{"s":"2IMHVATM","t":172.0,"v":14.6},{"s":"2IMHVATM","t":172.6,"v":16.05},
{"s":"2IMHVATM","t":175.5,"v":14.6},{"s":"2IMHVATM","t":175.9,"v":16.05},{"s":"2IMHVATM","t":176.2,"v":14.6},{"s":"2IMHVATM","t":176.5,"v":16.4},{"s":"2IMHVATM","t":176.9,"v":14.6},{"s":"2IMHVATM","t":177.3,"v":16.4},{"s":"2IMHVATM","t":177.6,"v":14.6},{"s":"2IMHVATM","t":178.0,"v":16.4},{"s":"2IMHVATM","t":178.3,"v":14.6},{"s":"2IMHVATM","t":178.7,"v":16.4},{"s":"2IMHVATM","t":179.0,"v":14.6},{"s":"2IMHVATM","t":179.4,"v":16.4},
{"s":"2IMHVATM","t":189.1,"v":16.75},{"s":"2IMHVATM","t":193.4,"v":-10},{"s":"2IMHVATM","t":214.1,"v":30},{"s":"2IMHVATM","t":254.0,"v":30}],
"p8":[
{"s":"2FHTRMZT","t":6.4,"v":-8.80},{"s":"2FHTRMZT","t":35.7,"v":-8.39},{"s":"2FHTRMZT","t":81.9,"v":-7.98},{"s":"2FHTRMZT","t":93.6,"v":-7.58},{"s":"2FHTRMZT","t":100.8,"v":-7.18},{"s":"2FHTRMZT","t":107.8,"v":-6.78},{"s":"2FHTRMZT","t":114.4,"v":-6.38},{"s":"2FHTRMZT","t":121.3,"v":-6.0},{"s":"2FHTRMZT","t":128.3,"v":-5.59},{"s":"2FHTRMZT","t":135.1,"v":-5.21},{"s":"2FHTRMZT","t":141.9,"v":-4.81},{"s":"2FHTRMZT","t":149.0,"v":-4.42},{"s":"2FHTRMZT","t":156.0,"v":-4.04},{"s":"2FHTRMZT","t":163.2,"v":-3.63},{"s":"2FHTRMZT","t":170.6,"v":-3.24},{"s":"2FHTRMZT","t":178.0,"v":-2.88},{"s":"2FHTRMZT","t":185.8,"v":-2.48},{"s":"2FHTRMZT","t":193.6,"v":-2.13},{"s":"2FHTRMZT","t":206.7,"v":-1.74},{"s":"2FHTRMZT","t":219.3,"v":-2.13},{"s":"2FHTRMZT","t":254.0,"v":-2.13},
{"s":"2FRADPYT","t":86.8,"v":-10},{"s":"2FRADPYT","t":86.9,"v":-9.22},{"s":"2FRADPYT","t":94.6,"v":-8.8},{"s":"2FRADPYT","t":100.8,"v":-8.39},{"s":"2FRADPYT","t":107.8,"v":-7.98},{"s":"2FRADPYT","t":114.4,"v":-7.58},{"s":"2FRADPYT","t":121.3,"v":-7.18},{"s":"2FRADPYT","t":128.3,"v":-6.78},{"s":"2FRADPYT","t":135.1,"v":-6.38},{"s":"2FRADPYT","t":142.9,"v":-5.99},{"s":"2FRADPYT","t":150.1,"v":-5.59},{"s":"2FRADPYT","t":157.9,"v":-5.21},{"s":"2FRADPYT","t":165.8,"v":-4.81},{"s":"2FRADPYT","t":173.9,"v":-4.42},{"s":"2FRADPYT","t":181.3,"v":-4.04},{"s":"2FRADPYT","t":190.1,"v":-3.65},{"s":"2FRADPYT","t":201.8,"v":-3.27},{"s":"2FRADPYT","t":209.6,"v":-3.65},{"s":"2FRADPYT","t":248.0,"v":-4.04},{"s":"2FRADPYT","t":254.0,"v":-4.04},
{"s":"2FEPRATM","t":80.4,"v":-10},{"s":"2FEPRATM","t":80.5,"v":-8.54},{"s":"2FEPRATM","t":83.5,"v":-8.13},{"s":"2FEPRATM","t":86.2,"v":-7.69},{"s":"2FEPRATM","t":88.7,"v":-7.30},{"s":"2FEPRATM","t":91.6,"v":-6.85},{"s":"2FEPRATM","t":95.2,"v":-6.45},{"s":"2FEPRATM","t":100.0,"v":-6.04},{"s":"2FEPRATM","t":104.9,"v":-5.62},{"s":"2FEPRATM","t":110.8,"v":-5.21},{"s":"2FEPRATM","t":116.6,"v":-4.79},{"s":"2FEPRATM","t":123.2,"v":-4.38},{"s":"2FEPRATM","t":130.3,"v":-3.95},{"s":"2FEPRATM","t":136.9,"v":-3.53},{"s":"2FEPRATM","t":144.3,"v":-3.11},{"s":"2FEPRATM","t":151.7,"v":-2.69},{"s":"2FEPRATM","t":159.5,"v":-2.27},
{"s":"2FEPRATM","t":164.2,"v":-6.05},{"s":"2FEPRATM","t":164.6,"v":-2.27},{"s":"2FEPRATM","t":165.0,"v":-6.05},{"s":"2FEPRATM","t":165.4,"v":-2.27},{"s":"2FEPRATM","t":165.7,"v":-6.05},{"s":"2FEPRATM","t":166.0,"v":-2.27},
{"s":"2FEPRATM","t":167.0,"v":-6.05},{"s":"2FEPRATM","t":167.4,"v":-1.83},{"s":"2FEPRATM","t":167.8,"v":-6.05},{"s":"2FEPRATM","t":168.2,"v":-1.83},{"s":"2FEPRATM","t":168.6,"v":-6.05},{"s":"2FEPRATM","t":169.0,"v":-1.83},{"s":"2FEPRATM","t":169.4,"v":-6.05},{"s":"2FEPRATM","t":169.8,"v":-1.83},{"s":"2FEPRATM","t":170.1,"v":-6.05},{"s":"2FEPRATM","t":170.4,"v":-1.83},
{"s":"2FEPRATM","t":171.0,"v":-6.05},{"s":"2FEPRATM","t":171.4,"v":-1.83},{"s":"2FEPRATM","t":171.8,"v":-6.05},{"s":"2FEPRATM","t":172.2,"v":-1.83},{"s":"2FEPRATM","t":172.6,"v":-6.05},{"s":"2FEPRATM","t":173.0,"v":-1.83},{"s":"2FEPRATM","t":173.4,"v":-6.05},{"s":"2FEPRATM","t":173.9,"v":-1.83},
{"s":"2FEPRATM","t":175.5,"v":-6.05},{"s":"2FEPRATM","t":175.9,"v":-1.83},{"s":"2FEPRATM","t":176.3,"v":-6.05},{"s":"2FEPRATM","t":176.7,"v":-1.83},{"s":"2FEPRATM","t":177.1,"v":-6.05},{"s":"2FEPRATM","t":177.5,"v":-1.83},{"s":"2FEPRATM","t":177.9,"v":-6.05},{"s":"2FEPRATM","t":178.3,"v":-1.83},{"s":"2FEPRATM","t":178.7,"v":-6.05},{"s":"2FEPRATM","t":179.1,"v":-1.83},
{"s":"2FEPRATM","t":179.4,"v":-1.39},{"s":"2FEPRATM","t":184.8,"v":-0.94},{"s":"2FEPRATM","t":193.4,"v":-10},{"s":"2FEPRATM","t":193.6,"v":-10},
{"s":"2FE00ATM","t":80.4,"v":-10},{"s":"2FE00ATM","t":80.5,"v":-9.31},{"s":"2FE00ATM","t":89.7,"v":-8.94},{"s":"2FE00ATM","t":93.6,"v":-9.31},{"s":"2FE00ATM","t":93.9,"v":-8.94},{"s":"2FE00ATM","t":94.6,"v":-8.56},{"s":"2FE00ATM","t":99.5,"v":-8.19},{"s":"2FE00ATM","t":104.3,"v":-7.83},{"s":"2FE00ATM","t":109.2,"v":-7.47},{"s":"2FE00ATM","t":114.5,"v":-7.12},{"s":"2FE00ATM","t":119.3,"v":-6.0},{"s":"2FE00ATM","t":119.5,"v":-6.77},{"s":"2FE00ATM","t":124.4,"v":-6.41},{"s":"2FE00ATM","t":129.7,"v":-6.07},{"s":"2FE00ATM","t":135.1,"v":-5.69},{"s":"2FE00ATM","t":140.0,"v":-5.35},{"s":"2FE00ATM","t":145.9,"v":-5.0},{"s":"2FE00ATM","t":151.1,"v":-4.66},{"s":"2FE00ATM","t":157.0,"v":-4.32},{"s":"2FE00ATM","t":163.2,"v":-3.98},
{"s":"2FE00ATM","t":164.2,"v":0},{"s":"2FE00ATM","t":164.6,"v":-3.69},{"s":"2FE00ATM","t":165.0,"v":0},{"s":"2FE00ATM","t":165.4,"v":-3.69},{"s":"2FE00ATM","t":165.8,"v":0},{"s":"2FE00ATM","t":166.2,"v":-3.69},{"s":"2FE00ATM","t":166.7,"v":-10},{"s":"2FE00ATM","t":166.8,"v":0},{"s":"2FE00ATM","t":167.2,"v":-3.69},{"s":"2FE00ATM","t":167.6,"v":0},{"s":"2FE00ATM","t":168.0,"v":-3.69},{"s":"2FE00ATM","t":168.4,"v":0},{"s":"2FE00ATM","t":168.8,"v":-3.69},{"s":"2FE00ATM","t":169.2,"v":0},{"s":"2FE00ATM","t":169.6,"v":-3.69},{"s":"2FE00ATM","t":170.0,"v":0},{"s":"2FE00ATM","t":170.4,"v":-3.69},{"s":"2FE00ATM","t":170.8,"v":0},{"s":"2FE00ATM","t":171.2,"v":-3.69},{"s":"2FE00ATM","t":171.6,"v":0},{"s":"2FE00ATM","t":172.0,"v":-3.69},{"s":"2FE00ATM","t":172.4,"v":0},{"s":"2FE00ATM","t":172.8,"v":-3.69},{"s":"2FE00ATM","t":173.2,"v":0},{"s":"2FE00ATM","t":173.6,"v":-3.69},{"s":"2FE00ATM","t":174.0,"v":0},{"s":"2FE00ATM","t":174.4,"v":-3.69},{"s":"2FE00ATM","t":174.8,"v":0},{"s":"2FE00ATM","t":175.2,"v":-3.69},{"s":"2FE00ATM","t":175.6,"v":0},{"s":"2FE00ATM","t":176.0,"v":-3.69},{"s":"2FE00ATM","t":176.4,"v":0},{"s":"2FE00ATM","t":176.8,"v":-3.69},{"s":"2FE00ATM","t":177.2,"v":0},{"s":"2FE00ATM","t":177.6,"v":-3.69},{"s":"2FE00ATM","t":178.0,"v":0},{"s":"2FE00ATM","t":178.4,"v":-3.69},{"s":"2FE00ATM","t":178.8,"v":0},{"s":"2FE00ATM","t":179.2,"v":-3.69},
{"s":"2FE00ATM","t":179.4,"v":-3.30},{"s":"2FE00ATM","t":181.0,"v":-2.94},{"s":"2FE00ATM","t":186.8,"v":-2.63},{"s":"2FE00ATM","t":190.7,"v":-1.91},{"s":"2FE00ATM","t":190.9,"v":-2.63},{"s":"2FE00ATM","t":192.9,"v":-3.0},{"s":"2FE00ATM","t":193.1,"v":-2.63},{"s":"2FE00ATM","t":193.4,"v":-10},{"s":"2FE00ATM","t":214.1,"v":5},{"s":"2FE00ATM","t":254.0,"v":5}]
},
"vconcat":[
{"width":1783,"height":670,"layer":[
 {"data":{"name":"ev"},"mark":{"type":"rect","color":"#f29b9b","opacity":0.15},"encoding":{"x":{"field":"t","type":"quantitative","scale":{"domain":[-5.8,266.2],"nice":false,"zero":false},"axis":{"values":[0,15,30,45,60,75,90,105,120,135,150,165,180,195,210,225,240,255],"labels":false,"title":null,"grid":true,"gridColor":"#b0b0b0","gridWidth":2,"gridDash":{"condition":{"test":"datum.value % 60 === 0","value":[1,0]},"value":[11,7]},"tickOpacity":{"condition":{"test":"datum.value % 60 === 0","value":1},"value":0}}},"x2":{"field":"t2"}}},
 {"data":{"name":"dk"},"mark":{"type":"rect","color":"#000000","opacity":0.1},"encoding":{"x":{"field":"t","type":"quantitative","scale":{"domain":[-5.8,266.2],"nice":false,"zero":false}},"x2":{"field":"t2"}}},
 {"data":{"name":"edges"},"mark":{"type":"rule","color":"black","strokeWidth":2},"encoding":{"x":{"field":"t","type":"quantitative","scale":{"domain":[-5.8,266.2],"nice":false,"zero":false}}}},
 {"data":{"name":"pitch"},"mark":{"type":"line","color":"black","strokeWidth":5,"interpolate":"monotone"},"encoding":{"x":{"field":"t","type":"quantitative","scale":{"domain":[-5.8,266.2],"nice":false,"zero":false}},"y":{"field":"v","type":"quantitative","scale":{"domain":[44.7,180],"nice":false,"zero":false},"axis":{"title":"Pitch Angle","values":[60,80,100,120,140,160,180],"format":"d"}}}},
 {"data":{"name":"tops"},"mark":{"type":"rule","color":"black","strokeWidth":2,"clip":false},"encoding":{"x":{"field":"t","type":"quantitative","scale":{"domain":[-5.8,266.2],"nice":false,"zero":false}},"y":{"datum":180,"type":"quantitative","scale":{"domain":[44.7,180],"nice":false,"zero":false}},"y2":{"datum":182.2}}},
 {"data":{"name":"tops"},"mark":{"type":"text","angle":270,"align":"left","baseline":"middle","dx":20,"fontSize":17.5,"font":"DejaVu Sans","color":"black"},"encoding":{"x":{"field":"t","type":"quantitative","scale":{"domain":[-5.8,266.2],"nice":false,"zero":false}},"y":{"datum":180,"type":"quantitative","scale":{"domain":[44.7,180],"nice":false,"zero":false}},"text":{"field":"lab"}}},
 {"data":{"name":"obs"},"mark":{"type":"text","angle":270,"align":"left","baseline":"middle","dx":20,"fontSize":26,"fontWeight":"bold","font":"DejaVu Sans","color":"black"},"encoding":{"x":{"field":"t","type":"quantitative","scale":{"domain":[-5.8,266.2],"nice":false,"zero":false}},"y":{"datum":180,"type":"quantitative","scale":{"domain":[44.7,180],"nice":false,"zero":false}},"text":{"field":"lab"}}}
]},
{"width":1783,"height":670,"layer":[
 {"data":{"name":"ev"},"mark":{"type":"rect","color":"#f29b9b","opacity":0.15},"encoding":{"x":{"field":"t","type":"quantitative","scale":{"domain":[-5.8,266.2],"nice":false,"zero":false},"axis":{"values":[0,15,30,45,60,75,90,105,120,135,150,165,180,195,210,225,240,255],"labels":false,"title":null,"grid":true,"gridColor":"#b0b0b0","gridWidth":2,"gridDash":{"condition":{"test":"datum.value % 60 === 0","value":[1,0]},"value":[11,7]},"tickOpacity":{"condition":{"test":"datum.value % 60 === 0","value":1},"value":0}}},"x2":{"field":"t2"}}},
 {"data":{"name":"edges"},"mark":{"type":"rule","color":"black","strokeWidth":2},"encoding":{"x":{"field":"t","type":"quantitative","scale":{"domain":[-5.8,266.2],"nice":false,"zero":false}}}},
 {"data":{"name":"p2m"},"mark":{"type":"line","color":"#454545","strokeWidth":6,"interpolate":"monotone"},"encoding":{"x":{"field":"t","type":"quantitative","scale":{"domain":[-5.8,266.2],"nice":false,"zero":false}},"y":{"field":"v","type":"quantitative","scale":{"domain":[-10.35,9.4],"nice":false,"zero":false}}}},
 {"data":{"name":"p2"},"mark":{"type":"line","interpolate":"step-after","strokeWidth":8},"encoding":{"x":{"field":"t","type":"quantitative","scale":{"domain":[-5.8,266.2],"nice":false,"zero":false}},"y":{"field":"v","type":"quantitative","scale":{"domain":[-10.35,9.4],"nice":false,"zero":false},"axis":{"title":"Temperature","values":[-10,-7.5,-5,-2.5,0,2.5,5,7.5],"format":".1f"}},"color":{"field":"s","type":"nominal","scale":{"domain":["2CHTRPZT","2CEAHVPT","2DTSTATT","2DCENTRT","2FHTRMZT"],"range":["#1f77b4","#ff7f0e","#2ca02c","#d62728","#9467bd"]},"legend":{"title":null,"orient":"top-left","columns":2,"columnPadding":50}}}},
 {"data":{"values":[{"k":1}]},"mark":{"type":"rect","fill":"white","stroke":"black","strokeWidth":2.5},"encoding":{"x":{"datum":135.5,"type":"quantitative","scale":{"domain":[-5.8,266.2],"nice":false,"zero":false}},"x2":{"datum":157.4},"y":{"datum":-7.48,"type":"quantitative","scale":{"domain":[-10.35,9.4],"nice":false,"zero":false}},"y2":{"datum":-10.9}}},
 {"data":{"values":[{"k":1}]},"mark":{"type":"text","align":"left","baseline":"top","fontSize":26,"lineHeight":31,"font":"DejaVu Sans","color":"black","text":["τ = -3.5","A1=12.0","A2=7.0"]},"encoding":{"x":{"datum":136.2,"type":"quantitative","scale":{"domain":[-5.8,266.2],"nice":false,"zero":false}},"y":{"datum":-7.72,"type":"quantitative","scale":{"domain":[-10.35,9.4],"nice":false,"zero":false}}}}
]},
{"width":1783,"height":670,"layer":[
 {"data":{"name":"ev"},"mark":{"type":"rect","color":"#f29b9b","opacity":0.15},"encoding":{"x":{"field":"t","type":"quantitative","scale":{"domain":[-5.8,266.2],"nice":false,"zero":false},"axis":{"values":[0,15,30,45,60,75,90,105,120,135,150,165,180,195,210,225,240,255],"labels":false,"title":null,"grid":true,"gridColor":"#b0b0b0","gridWidth":2,"gridDash":{"condition":{"test":"datum.value % 60 === 0","value":[1,0]},"value":[11,7]},"tickOpacity":{"condition":{"test":"datum.value % 60 === 0","value":1},"value":0}}},"x2":{"field":"t2"}}},
 {"data":{"name":"edges"},"mark":{"type":"rule","color":"black","strokeWidth":2},"encoding":{"x":{"field":"t","type":"quantitative","scale":{"domain":[-5.8,266.2],"nice":false,"zero":false}}}},
 {"data":{"name":"lims"},"mark":{"type":"rule","color":"#808080","strokeWidth":3},"encoding":{"y":{"field":"v","type":"quantitative","scale":{"domain":[3.2,13.5],"nice":false,"zero":false}}}},
 {"data":{"name":"p3"},"transform":[{"filter":"datum.s === '2CEAHVPT'"}],"mark":{"type":"line","interpolate":"step-after","strokeWidth":8},"encoding":{"x":{"field":"t","type":"quantitative","scale":{"domain":[-5.8,266.2],"nice":false,"zero":false}},"y":{"field":"v","type":"quantitative","scale":{"domain":[3.2,13.5],"nice":false,"zero":false},"axis":{"title":"Temperature","values":[4,6,8,10,12],"format":"d"}},"color":{"field":"s","type":"nominal","scale":{"domain":["2CEAHVPT","Model"],"range":["#1f77b4","#ff7f0e"]},"legend":{"title":null,"orient":"bottom-right"}}}},
 {"data":{"name":"p3"},"transform":[{"filter":"datum.s === 'Model'"}],"mark":{"type":"line","strokeWidth":5},"encoding":{"x":{"field":"t","type":"quantitative","scale":{"domain":[-5.8,266.2],"nice":false,"zero":false}},"y":{"field":"v","type":"quantitative","scale":{"domain":[3.2,13.5],"nice":false,"zero":false}},"color":{"field":"s","type":"nominal","scale":{"domain":["2CEAHVPT","Model"],"range":["#1f77b4","#ff7f0e"]},"legend":{"title":null,"orient":"bottom-right"}}}}
]},
{"width":1783,"height":670,"layer":[
 {"data":{"name":"ev"},"mark":{"type":"rect","color":"#f29b9b","opacity":0.15},"encoding":{"x":{"field":"t","type":"quantitative","scale":{"domain":[-5.8,266.2],"nice":false,"zero":false},"axis":{"values":[0,15,30,45,60,75,90,105,120,135,150,165,180,195,210,225,240,255],"labels":false,"title":null,"grid":true,"gridColor":"#b0b0b0","gridWidth":2,"gridDash":{"condition":{"test":"datum.value % 60 === 0","value":[1,0]},"value":[11,7]},"tickOpacity":{"condition":{"test":"datum.value % 60 === 0","value":1},"value":0}}},"x2":{"field":"t2"}}},
 {"data":{"name":"edges"},"mark":{"type":"rule","color":"black","strokeWidth":2},"encoding":{"x":{"field":"t","type":"quantitative","scale":{"domain":[-5.8,266.2],"nice":false,"zero":false}}}},
 {"data":{"name":"p4"},"transform":[{"fold":["b","o","g","old","new"],"as":["s","v"]}],"mark":{"type":"line","clip":true,"strokeWidth":2.5,"invalid":"filter"},"encoding":{"x":{"field":"t","type":"quantitative","scale":{"domain":[-5.8,266.2],"nice":false,"zero":false}},"y":{"field":"v","type":"quantitative","scale":{"type":"log","domain":[19.9,9080],"nice":false},"axis":{"title":"Rate","values":[20,30,40,50,60,70,80,90,100,200,300,400,500,600,700,800,900,1000,2000,3000,4000,5000,6000,7000,8000,9000],"labelExpr":"datum.value === 100 ? '10²' : datum.value === 1000 ? '10³' : ''","tickSize":{"condition":{"test":"datum.value === 100 || datum.value === 1000","value":27},"value":12},"tickWidth":{"condition":{"test":"datum.value === 100 || datum.value === 1000","value":3},"value":2}}},"color":{"field":"s","type":"nominal","scale":{"domain":["b","o","g","old","new"],"range":["#1f77b4","#ff7f0e","#2ca02c","#9467bd","#bcbd22"]},"legend":{"title":null,"orient":"bottom-right","symbolStrokeWidth":4,"labelLimit":0,"labelExpr":"datum.label === 'b' ? '2TLEV1RT (122)' : datum.label === 'o' ? '2VLEV1RT (58)' : datum.label === 'g' ? '2SHEV1RT (1,425)' : datum.label === 'old' ? 'Old Proxy' : 'New Proxy'"}},"strokeDash":{"field":"s","type":"nominal","scale":{"domain":["b","o","g","old","new"],"range":[[1,0],[1,0],[1,0],[6,4],[3,3]]},"legend":{"title":null,"orient":"bottom-right","symbolStrokeWidth":4,"labelLimit":0,"labelExpr":"datum.label === 'b' ? '2TLEV1RT (122)' : datum.label === 'o' ? '2VLEV1RT (58)' : datum.label === 'g' ? '2SHEV1RT (1,425)' : datum.label === 'old' ? 'Old Proxy' : 'New Proxy'"}}}}
]},
{"width":1783,"height":670,"layer":[
 {"data":{"name":"ev"},"mark":{"type":"rect","color":"#f29b9b","opacity":0.15},"encoding":{"x":{"field":"t","type":"quantitative","scale":{"domain":[-5.8,266.2],"nice":false,"zero":false},"axis":{"values":[0,15,30,45,60,75,90,105,120,135,150,165,180,195,210,225,240,255],"labels":false,"title":null,"grid":true,"gridColor":"#b0b0b0","gridWidth":2,"gridDash":{"condition":{"test":"datum.value % 60 === 0","value":[1,0]},"value":[11,7]},"tickOpacity":{"condition":{"test":"datum.value % 60 === 0","value":1},"value":0}}},"x2":{"field":"t2"}}},
 {"data":{"name":"edges"},"mark":{"type":"rule","color":"black","strokeWidth":2},"encoding":{"x":{"field":"t","type":"quantitative","scale":{"domain":[-5.8,266.2],"nice":false,"zero":false}}}},
 {"data":{"name":"p5"},"mark":{"type":"line","interpolate":"step-after","strokeWidth":8},"encoding":{"x":{"field":"t","type":"quantitative","scale":{"domain":[-5.8,266.2],"nice":false,"zero":false}},"y":{"field":"v","type":"quantitative","scale":{"domain":[-20,20],"nice":false,"zero":false},"axis":{"title":"Volt","values":[-20,-15,-10,-5,0,5,10,15,20],"format":"d"}},"color":{"field":"s","type":"nominal","scale":{"domain":["2P15VAVL","2N15VAVL","2P05VAVL"],"range":["#1f77b4","#ff7f0e","#2ca02c"]},"legend":{"title":null,"orient":"top-right"}}}}
]},
{"width":1783,"height":670,"layer":[
 {"data":{"name":"ev"},"mark":{"type":"rect","color":"#f29b9b","opacity":0.15},"encoding":{"x":{"field":"t","type":"quantitative","scale":{"domain":[-5.8,266.2],"nice":false,"zero":false},"axis":{"values":[0,15,30,45,60,75,90,105,120,135,150,165,180,195,210,225,240,255],"labels":false,"title":null,"grid":true,"gridColor":"#b0b0b0","gridWidth":2,"gridDash":{"condition":{"test":"datum.value % 60 === 0","value":[1,0]},"value":[11,7]},"tickOpacity":{"condition":{"test":"datum.value % 60 === 0","value":1},"value":0}}},"x2":{"field":"t2"}}},
 {"data":{"name":"edges"},"mark":{"type":"rule","color":"black","strokeWidth":2},"encoding":{"x":{"field":"t","type":"quantitative","scale":{"domain":[-5.8,266.2],"nice":false,"zero":false}}}},
 {"data":{"name":"p6"},"transform":[{"fold":["g","r"],"as":["s","v"]}],"mark":{"type":"circle","size":100,"opacity":1},"encoding":{"x":{"field":"t","type":"quantitative","scale":{"domain":[-5.8,266.2],"nice":false,"zero":false}},"y":{"field":"v","type":"quantitative","scale":{"domain":[0,265.8],"nice":false,"zero":false},"axis":{"title":"HV Monitor","values":[0,50,100,150,200,250],"format":"d"}},"color":{"field":"s","type":"nominal","scale":{"domain":["b","o","g","r"],"range":["#1f77b4","#ff7f0e","#2ca02c","#d62728"]},"legend":{"title":null,"orient":"top-right","symbolType":"circle","symbolSize":70,"rowPadding":15,"labelExpr":"datum.label === 'b' ? '2SPHBLV' : datum.label === 'o' ? '2SPHVLV' : datum.label === 'g' ? '2IMHVLV' : '2IMHBLV'"}},"order":{"field":"s","type":"nominal"}}}
]},
{"width":1783,"height":670,"layer":[
 {"data":{"name":"ev"},"mark":{"type":"rect","color":"#f29b9b","opacity":0.15},"encoding":{"x":{"field":"t","type":"quantitative","scale":{"domain":[-5.8,266.2],"nice":false,"zero":false},"axis":{"values":[0,15,30,45,60,75,90,105,120,135,150,165,180,195,210,225,240,255],"labels":false,"title":null,"grid":true,"gridColor":"#b0b0b0","gridWidth":2,"gridDash":{"condition":{"test":"datum.value % 60 === 0","value":[1,0]},"value":[11,7]},"tickOpacity":{"condition":{"test":"datum.value % 60 === 0","value":1},"value":0}}},"x2":{"field":"t2"}}},
 {"data":{"name":"edges"},"mark":{"type":"rule","color":"black","strokeWidth":2},"encoding":{"x":{"field":"t","type":"quantitative","scale":{"domain":[-5.8,266.2],"nice":false,"zero":false}}}},
 {"data":{"name":"p7"},"mark":{"type":"line","interpolate":"step-after","strokeWidth":8,"clip":true},"encoding":{"x":{"field":"t","type":"quantitative","scale":{"domain":[-5.8,266.2],"nice":false,"zero":false}},"y":{"field":"v","type":"quantitative","scale":{"domain":[-2.03,17.17],"nice":false,"zero":false},"axis":{"title":"Detector Temp","values":[0,2.5,5,7.5,10,12.5,15],"format":".1f"}},"color":{"field":"s","type":"nominal","scale":{"domain":["2SPINATM","2SPHVATM","2IMINATM","2IMHVATM"],"range":["#1f77b4","#ff7f0e","#2ca02c","#d62728"]},"legend":{"title":null,"orient":"top-right"}}}}
]},
{"width":1783,"height":670,"layer":[
 {"data":{"name":"ev"},"mark":{"type":"rect","color":"#f29b9b","opacity":0.15},"encoding":{"x":{"field":"t","type":"quantitative","scale":{"domain":[-5.8,266.2],"nice":false,"zero":false},"axis":{"values":[0,15,30,45,60,75,90,105,120,135,150,165,180,195,210,225,240,255],"labels":true,"labelExpr":"datum.value % 60 === 0 ? ['', (datum.value < 60 ? '0' : '') + (9 + datum.value / 60) + 'h'] : '' + datum.value % 60","labelFontSize":{"condition":{"test":"datum.value % 60 === 0","value":27},"value":19},"labelPadding":-25,"labelLineHeight":30,"labelBaseline":"top","title":"2024-11-19 (324)","titleFontSize":30,"titlePadding":6,"grid":true,"gridColor":"#b0b0b0","gridWidth":2,"gridDash":{"condition":{"test":"datum.value % 60 === 0","value":[1,0]},"value":[11,7]},"tickOpacity":{"condition":{"test":"datum.value % 60 === 0","value":1},"value":0}}},"x2":{"field":"t2"}}},
 {"data":{"name":"edges"},"mark":{"type":"rule","color":"black","strokeWidth":2},"encoding":{"x":{"field":"t","type":"quantitative","scale":{"domain":[-5.8,266.2],"nice":false,"zero":false}}}},
 {"data":{"name":"p8"},"mark":{"type":"line","interpolate":"step-after","strokeWidth":8,"clip":true},"encoding":{"x":{"field":"t","type":"quantitative","scale":{"domain":[-5.8,266.2],"nice":false,"zero":false}},"y":{"field":"v","type":"quantitative","scale":{"domain":[-9.48,-0.76],"nice":false,"zero":false},"axis":{"title":"FEA Temp","values":[-9,-8,-7,-6,-5,-4,-3,-2,-1],"format":"d"}},"color":{"field":"s","type":"nominal","scale":{"domain":["2FHTRMZT","2FRADPYT","2FEPRATM","2FE00ATM"],"range":["#1f77b4","#ff7f0e","#2ca02c","#d62728"]},"legend":{"title":null,"orient":"top-left"}}}}
]}
],
"config":{
 "font":"DejaVu Sans",
 "view":{"stroke":"black","strokeWidth":2.5},
 "axis":{"domain":false,"grid":false,"labelFont":"DejaVu Sans","labelFontSize":27,"labelColor":"black","titleFont":"DejaVu Sans","titleFontSize":26,"titleFontWeight":"normal","titleColor":"black","tickColor":"black","tickWidth":3,"tickSize":27,"labelOverlap":false,"labelFlush":false,"labelPadding":13,"titlePadding":16},
 "legend":{"labelFont":"DejaVu Sans","labelFontSize":27,"labelColor":"black","labelLimit":0,"fillColor":"rgba(255,255,255,0.8)","strokeColor":"#cccccc","strokeWidth":2.5,"cornerRadius":8,"padding":10,"rowPadding":-7,"offset":14,"symbolStrokeWidth":8,"symbolSize":2304,"labelOffset":18}
}
}
